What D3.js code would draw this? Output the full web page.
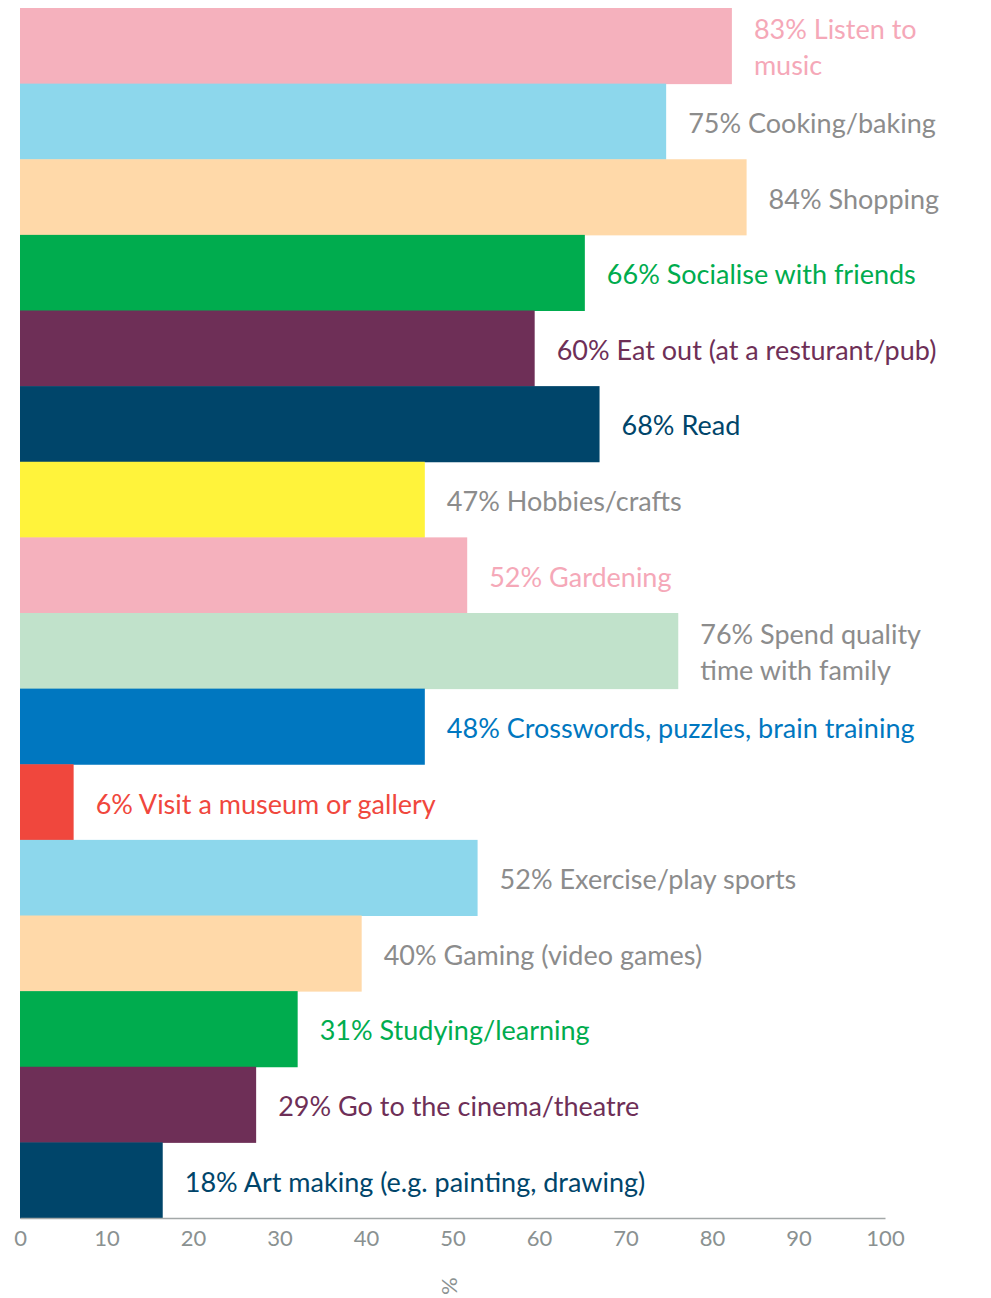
<!DOCTYPE html>
<html>
<head>
<meta charset="utf-8">
<script src="https://cdn.jsdelivr.net/npm/d3@7"></script>
<style>
  body { margin: 0; background: #fff; }
  svg { display: block; font-family: "Lato", sans-serif; }
</style>
</head>
<body>
<svg width="991" height="1298"></svg>
<script>
// categories, top to bottom
var activities = ["Listen to music", "Cooking/baking", "Shopping", "Socialise with friends",
  "Eat out (at a resturant/pub)", "Read", "Hobbies/crafts", "Gardening",
  "Spend quality time with family", "Crosswords, puzzles, brain training",
  "Visit a museum or gallery", "Exercise/play sports", "Gaming (video games)",
  "Studying/learning", "Go to the cinema/theatre", "Art making (e.g. painting, drawing)"];

// bar lengths as drawn
var barValues = [82.3, 74.7, 84, 65.3, 59.5, 67, 46.8, 51.7, 76.1, 46.8, 6.2, 52.9, 39.5, 32.1, 27.3, 16.5];

// label text lines per bar
var labelLines = [
  ["83% Listen to", "music"],
  ["75% Cooking/baking"],
  ["84% Shopping"],
  ["66% Socialise with friends"],
  ["60% Eat out (at a resturant/pub)"],
  ["68% Read"],
  ["47% Hobbies/crafts"],
  ["52% Gardening"],
  ["76% Spend quality", "time with family"],
  ["48% Crosswords, puzzles, brain training"],
  ["6% Visit a museum or gallery"],
  ["52% Exercise/play sports"],
  ["40% Gaming (video games)"],
  ["31% Studying/learning"],
  ["29% Go to the cinema/theatre"],
  ["18% Art making (e.g. painting, drawing)"]
];

var xTicks = [0, 10, 20, 30, 40, 50, 60, 70, 80, 90, 100];

var pink = "#f5b1bd", lblue = "#8dd7ec", peach = "#ffd9a9", green = "#00ac4e",
    purple = "#6e2f57", navy = "#00456a", yellow = "#fff33b", mint = "#c1e2cb",
    blue = "#0077c0", red = "#f0473d", grey = "#8c8c8c";

var barColors = [pink, lblue, peach, green, purple, navy, yellow, pink, mint, blue, red, lblue, peach, green, purple, navy];
var textColors = ["#f5a8b8", grey, grey, green, purple, navy, grey, "#f5a8b8", grey, blue, red, grey, grey, green, purple, navy];

var svg = d3.select("svg");

var x = d3.scaleLinear().domain([0, 100]).range([20, 885]);
var y = d3.scaleBand().domain(activities).range([8, 1218]).padding(0);

var rows = svg.selectAll(".row")
  .data(activities)
  .enter().append("g")
    .attr("class", "row");

rows.append("rect")
    .attr("x", x(0))
    .attr("y", function(d) { return y(d); })
    .attr("width", function(d, i) { return x(barValues[i]) - x(0); })
    .attr("height", y.bandwidth() + 0.5)
    .attr("fill", function(d, i) { return barColors[i]; });

var lineH = 36;
rows.append("text")
    .attr("fill", function(d, i) { return textColors[i]; })
    .style("font-size", "27px")
  .selectAll("tspan")
  .data(function(d, i) {
    var n = labelLines[i].length;
    return labelLines[i].map(function(t, j) {
      return { text: t, x: x(barValues[i]) + 22,
               y: y(d) + y.bandwidth() / 2 + 2 + (j - (n - 1) / 2) * lineH };
    });
  })
  .enter().append("tspan")
    .attr("x", function(d) { return d.x; })
    .attr("y", function(d) { return d.y; })
    .attr("dy", "0.35em")
    .text(function(d) { return d.text; });

var axis = svg.append("g")
    .attr("transform", "translate(0,1218)")
    .call(d3.axisBottom(x).tickValues(xTicks).tickSize(0).tickPadding(12).tickFormat(d3.format("d")));

axis.select(".domain").attr("stroke", "#a3a8a8").attr("stroke-width", 1.5);
axis.selectAll("text")
    .attr("fill", "#8a9191")
    .style("font-size", "22px")
    .style("font-family", "Lato, sans-serif");

svg.append("text")
    .attr("transform", "translate(450,1286) rotate(90)")
    .attr("text-anchor", "middle")
    .attr("dy", "0.35em")
    .attr("fill", "#8a9191")
    .style("font-size", "22px")
    .text("%");
</script>
</body>
</html>
